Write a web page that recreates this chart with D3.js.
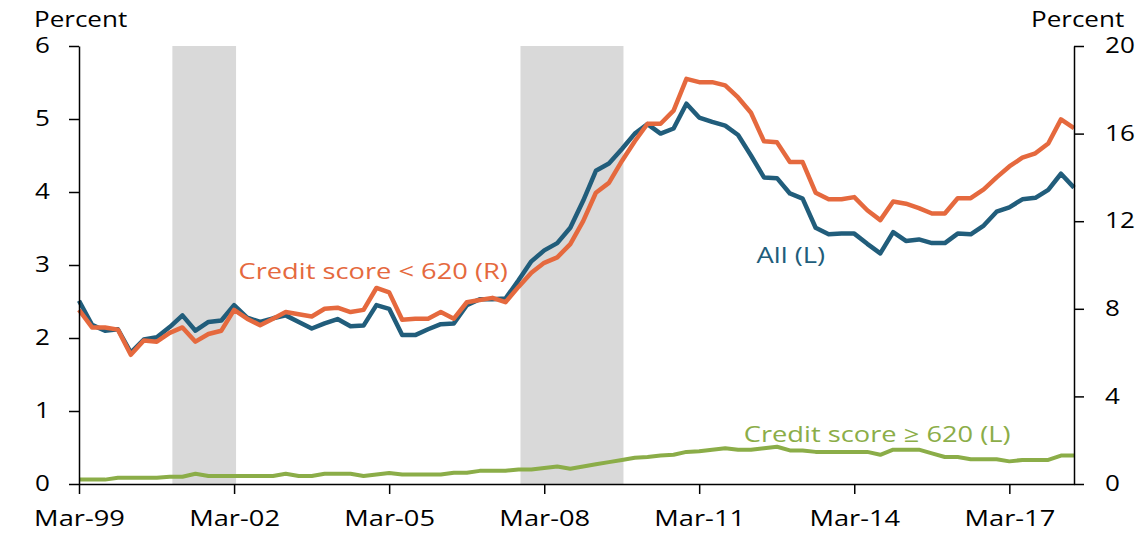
<!DOCTYPE html>
<html>
<head>
<meta charset="utf-8">
<script src="https://cdn.jsdelivr.net/npm/d3@7"></script>
<style>
    body { margin: 0; background: #fff; }
    svg text { font-family: "Open Sans", sans-serif; fill: #000; }
</style>
</head>
<body>
<div class="delinquency"></div>
<script>
// Quarterly, Mar-99 .. Jun-18
const allRate = [
    2.51, 2.18, 2.10, 2.12, 1.80, 1.98, 2.01, 2.15, 2.31, 2.10,
    2.22, 2.24, 2.45, 2.28, 2.22, 2.27, 2.31, 2.22, 2.13, 2.20,
    2.26, 2.16, 2.17, 2.45, 2.40, 2.04, 2.04, 2.12, 2.19, 2.20,
    2.45, 2.53, 2.53, 2.54, 2.79, 3.05, 3.20, 3.30, 3.51, 3.88,
    4.29, 4.39, 4.59, 4.80, 4.93, 4.80, 4.87, 5.21, 5.02, 4.96,
    4.91, 4.78, 4.50, 4.20, 4.19, 3.98, 3.91, 3.51, 3.42, 3.43,
    3.43, 3.29, 3.16, 3.45, 3.33, 3.35, 3.30, 3.30, 3.43, 3.42,
    3.54, 3.73, 3.79, 3.90, 3.92, 4.03, 4.25, 4.06
]
const subprimeRate = [
    7.95, 7.15, 7.15, 7.05, 5.90, 6.55, 6.50, 6.90, 7.15, 6.50,
    6.85, 7.00, 7.95, 7.55, 7.25, 7.55, 7.85, 7.75, 7.65, 8.00,
    8.05, 7.85, 7.95, 8.95, 8.75, 7.50, 7.55, 7.55, 7.85, 7.55,
    8.30, 8.40, 8.50, 8.30, 9.00, 9.65, 10.10, 10.35, 10.95, 12.00,
    13.30, 13.75, 14.75, 15.65, 16.45, 16.45, 17.05, 18.50, 18.35, 18.35,
    18.20, 17.65, 16.95, 15.65, 15.60, 14.70, 14.70, 13.30, 13.00, 13.00,
    13.10, 12.50, 12.05, 12.90, 12.80, 12.60, 12.35, 12.35, 13.05, 13.05,
    13.45, 14.00, 14.50, 14.90, 15.10, 15.55, 16.65, 16.25
]
const primeRate = [
    0.06, 0.06, 0.06, 0.085, 0.085, 0.085, 0.085, 0.10, 0.10, 0.14,
    0.11, 0.11, 0.11, 0.11, 0.11, 0.11, 0.14, 0.11, 0.11, 0.14,
    0.14, 0.14, 0.11, 0.13, 0.15, 0.13, 0.13, 0.13, 0.13, 0.155,
    0.155, 0.18, 0.18, 0.18, 0.20, 0.20, 0.22, 0.24, 0.21, 0.24,
    0.27, 0.30, 0.33, 0.36, 0.37, 0.39, 0.40, 0.44, 0.45, 0.47,
    0.49, 0.47, 0.47, 0.49, 0.51, 0.46, 0.46, 0.44, 0.44, 0.44,
    0.44, 0.44, 0.40, 0.47, 0.47, 0.47, 0.42, 0.37, 0.37, 0.34,
    0.34, 0.34, 0.31, 0.33, 0.33, 0.33, 0.39, 0.39
]
const xTickLabels = ["Mar-99", "Mar-02", "Mar-05", "Mar-08", "Mar-11", "Mar-14", "Mar-17"]
const leftTicks = [0, 1, 2, 3, 4, 5, 6]
const rightTicks = [0, 4, 8, 12, 16, 20]
const recessions = [["2000-12-20", "2002-03-15"], ["2007-09-15", "2009-09-12"]]
const labels = [
    { text: "Credit score < 620 (R)", date: "2002-04-01", value: 2.81, color: "#e5693e" },
    { text: "All (L)", date: "2012-04-10", value: 3.03, color: "#215d7b" },
    { text: "Credit score \u2265 620 (L)", date: "2012-01-10", value: 0.575, color: "#8bad48" }
]

const width = 1141
const height = 533
const margin = { top: 46, right: 67, bottom: 49, left: 79 }
const stretchX = 1.24

const firstQuarter = new Date(1999, 2, 1)
const parseDay = d3.timeParse("%Y-%m-%d")
const parseTick = d3.timeParse("%b-%y")

const rows = allRate.map((v, i) => ({
    date: d3.timeMonth.offset(firstQuarter, 3 * i),
    all: v,
    sub: subprimeRate[i],
    prime: primeRate[i]
}))

const x = d3.scaleTime()
    .domain(d3.extent(rows, d => d.date))
    .range([margin.left, width - margin.right])
const yLeft = d3.scaleLinear()
    .domain([0, 6])
    .range([height - margin.bottom, margin.top])
const yRight = d3.scaleLinear()
    .domain([0, 20])
    .range([height - margin.bottom, margin.top])

const svg = d3.select(".delinquency")
    .append("svg")
    .attr("width", width)
    .attr("height", height)

// Recession bars
svg.selectAll("rect.recession")
    .data(recessions)
    .join("rect")
    .attr("class", "recession")
    .attr("x", d => x(parseDay(d[0])))
    .attr("width", d => x(parseDay(d[1])) - x(parseDay(d[0])))
    .attr("y", margin.top)
    .attr("height", height - margin.bottom - margin.top)
    .attr("fill", "#d9d9d9")

// Lines
const series = [
    { key: "prime", y: yLeft, color: "#8bad48", w: 4 },
    { key: "all", y: yLeft, color: "#215d7b", w: 4.5 },
    { key: "sub", y: yRight, color: "#e5693e", w: 4.5 }
]
svg.selectAll("path.line")
    .data(series)
    .join("path")
    .attr("class", "line")
    .attr("fill", "none")
    .attr("stroke", d => d.color)
    .attr("stroke-width", d => d.w)
    .attr("stroke-linejoin", "round")
    .attr("d", s => d3.line()
        .x(d => x(d.date))
        .y(d => s.y(d[s.key]))(rows))

// Axes
const xAxis = svg.append("g")
    .attr("transform", `translate(0, ${height - margin.bottom})`)
    .call(d3.axisBottom(x)
        .tickValues(xTickLabels.map(parseTick))
        .tickFormat(d3.timeFormat("%b-%y"))
        .tickSize(10)
        .tickSizeOuter(0))
xAxis.selectAll("text")
    .attr("y", 26)
    .attr("font-size", 22)
    .attr("transform", `scale(${stretchX},1)`)

const leftAxis = svg.append("g")
    .attr("transform", `translate(${margin.left}, 0)`)
    .call(d3.axisLeft(yLeft).tickValues(leftTicks).tickFormat(d3.format("d")).tickSize(10).tickSizeOuter(0))
leftAxis.selectAll("text")
    .attr("x", 0)
    .attr("text-anchor", "start")
    .attr("font-size", 21)
    .attr("transform", `translate(-44,0) scale(${stretchX},1)`)

const rightAxis = svg.append("g")
    .attr("transform", `translate(${width - margin.right}, 0)`)
    .call(d3.axisRight(yRight).tickValues(rightTicks).tickFormat(d3.format("d")).tickSize(10).tickSizeOuter(0))
rightAxis.selectAll("text")
    .attr("x", 0)
    .attr("text-anchor", "start")
    .attr("font-size", 21)
    .attr("transform", `translate(31,0) scale(${stretchX},1)`)

svg.selectAll(".domain, .tick line")
    .attr("stroke", "#000")
    .attr("stroke-width", 1.5)

// Axis titles
svg.selectAll("text.unit")
    .data([34, 1031])
    .join("text")
    .attr("class", "unit")
    .attr("font-size", 21)
    .attr("transform", d => `translate(${d}, 27) scale(${stretchX},1)`)
    .text("Percent")

// Series labels
svg.selectAll("text.series")
    .data(labels)
    .join("text")
    .attr("class", "series")
    .attr("font-size", 22)
    .style("fill", d => d.color)
    .attr("transform", d => `translate(${x(parseDay(d.date))}, ${yLeft(d.value)}) scale(${stretchX},1)`)
    .text(d => d.text)
</script>
</body>
</html>
